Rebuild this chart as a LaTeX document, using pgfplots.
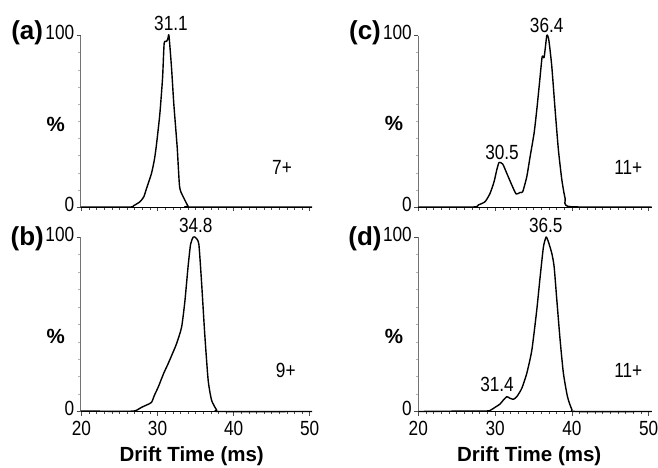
\documentclass[border=0pt]{standalone}
\usepackage{fontspec}
\setmainfont{Liberation Sans}
\usepackage{graphicx}
\usepackage{pgfplots}
\pgfplotsset{compat=1.18}

% regular text of the reference is a little condensed
\newcommand{\nf}[1]{\scalebox{0.84}[1]{#1}}
\newcommand{\regfont}{\fontsize{20.5}{24}\selectfont}
\newcommand{\boldlab}{\fontsize{20.5}{24}\selectfont\bfseries}

\pgfplotsset{
  drift/.style={
    scale only axis, anchor=south west,
    ymin=0, ymax=100,
    axis x line*=bottom, axis y line*=left,
    axis line style={-},
    x axis line style={black, line width=1pt},
    y axis line style={black!55, line width=0.7pt},
    xtick={20,30,40,50}, minor x tick num=9,
    ytick={0,100}, minor y tick num=9,
    tick align=outside,
    major tick length=4pt, minor tick length=2.5pt,
    every tick/.style={black!70, line width=0.5pt},
    every minor y tick/.style={black!30, line width=0.4pt},
    yticklabels={\nf{0},\nf{100}},
    tick label style={font=\regfont},
    yticklabel style={anchor=east, xshift=1pt, yshift=3pt},
    xticklabel style={anchor=center, yshift=-13pt},
    clip=false,
  },
  trace/.style={black, line width=1.4pt, line join=round, smooth, tension=0.35},
}

\begin{document}
\begin{tikzpicture}[x=1pt,y=1pt]
\path[use as bounding box] (0,0) rectangle (658,467);

% (a) 7+
\begin{axis}[drift, at={(80.7pt,260pt)}, width=231.3pt, height=171.5pt,
  xmin=19.9, xmax=50.3, xticklabels=\empty]
\addplot[trace] coordinates {
 (19.9,0) (26.4,0) (26.8,0.6) (27.7,3.1) (28.2,6) (28.55,10.8) (29.2,19.5)
 (29.6,28) (29.87,36.8) (30.3,54.2) (30.66,75.3) (30.87,95.5) (31.18,96.5)
 (31.35,98) (31.5,100) (31.84,81) (32.14,59.9) (32.58,34.9) (32.9,11.7)
 (33.37,6) (34.0,0.6) (34.3,0) (50.3,0)};
\end{axis}

% (b) 9+
\begin{axis}[drift, at={(80.7pt,55.5pt)}, width=231.3pt, height=174.5pt,
  xmin=19.9, xmax=50.3, xticklabels={\nf{20},\nf{30},\nf{40},\nf{50}}]
\addplot[trace] coordinates {
 (19.9,0.3) (22,0.2) (24,0.1) (26.8,0.2) (27.2,0.6) (27.9,2.4) (28.55,3.7)
 (29.2,5.2) (29.6,9.4) (30.1,14.1) (30.8,21.8) (31.4,27.5) (32.05,34.1)
 (32.5,38.9) (33.16,48.3) (33.6,63.5) (34.0,82.5) (34.34,95.8) (34.7,100)
 (35.04,99.5) (35.43,95.8) (35.8,73) (36.2,44.5) (36.65,18) (37.1,6.5)
 (37.75,1) (38.2,0) (50.3,0)};
\end{axis}

% (c) 11+
\begin{axis}[drift, at={(418.3pt,260pt)}, width=233.4pt, height=171.5pt,
  xmin=20, xmax=50.4, xticklabels=\empty]
\addplot[trace] coordinates {
 (20,0) (27.17,0) (27.82,1.2) (28.7,3.1) (29.35,8) (29.87,14.8) (30.22,21.6)
 (30.52,26) (31.0,25) (31.53,19.6) (32.18,12.8) (32.74,7.6) (33.26,8.5)
 (33.6,8.9) (34.13,17.7) (34.56,29.3) (35.08,43) (35.43,56.6) (35.78,72.1)
 (36.13,87.6) (36.39,87.3) (36.74,100) (37.0,97.4) (37.39,81.8) (37.82,56.6)
 (38.25,33.2) (38.7,15.7) (39.13,5) (39.78,0.2) (50.4,0)};
\end{axis}

% (d) 11+
\begin{axis}[drift, at={(418.3pt,55.5pt)}, width=233.4pt, height=174.5pt,
  xmin=20, xmax=50.4, xticklabels={\nf{20},\nf{30},\nf{40},\nf{50}}]
\addplot[trace] coordinates {
 (20,0) (25,0.2) (28.9,0.3) (29.35,0.6) (30.0,2.4) (30.65,4.3) (31.08,6.6)
 (31.53,8.5) (31.94,7.6) (32.39,7) (32.83,8.5) (33.48,13.3) (34.13,21.9)
 (34.79,35.2) (35.43,58.2) (35.87,77.2) (36.3,94.4) (36.65,100) (36.94,97.3)
 (37.39,90.6) (37.69,83) (38.04,64) (38.47,41) (38.9,21.9) (39.43,8.5)
 (40.0,1.2) (40.6,0) (50.4,0)};
\end{axis}

% panel letters
\begin{scope}[every node/.style={font=\fontsize{26}{30}\selectfont\bfseries, inner sep=0pt}]
\node at (27.2,434.2) {(a)};
\node at (27.2,227.8) {(b)};
\node at (365,434.2) {(c)};
\node at (365,227.8) {(d)};
\end{scope}

% y labels
\begin{scope}[every node/.style={font=\boldlab, inner sep=0pt}]
\node at (55.8,342.8) {\%};
\node at (55.8,130.3) {\%};
\node at (394,343.7) {\%};
\node at (394,130.3) {\%};
\node at (191.7,11) {Drift Time (ms)};
\node at (529.2,11) {Drift Time (ms)};
\end{scope}

% peak and charge annotations
\begin{scope}[every node/.style={font=\regfont, inner sep=0pt}]
\node at (171,443.3) {\nf{31.1}};
\node at (195.8,241.2) {\nf{34.8}};
\node at (546.7,442) {\nf{36.4}};
\node at (502,314.5) {\nf{30.5}};
\node at (545.8,242) {\nf{36.5}};
\node at (497,83) {\nf{31.4}};
\node at (282,299.5) {\nf{7+}};
\node at (285.8,96.2) {\nf{9+}};
\node at (628.3,299.5) {\nf{11+}};
\node at (628.3,96.2) {\nf{11+}};
\end{scope}
\end{tikzpicture}
\end{document}
